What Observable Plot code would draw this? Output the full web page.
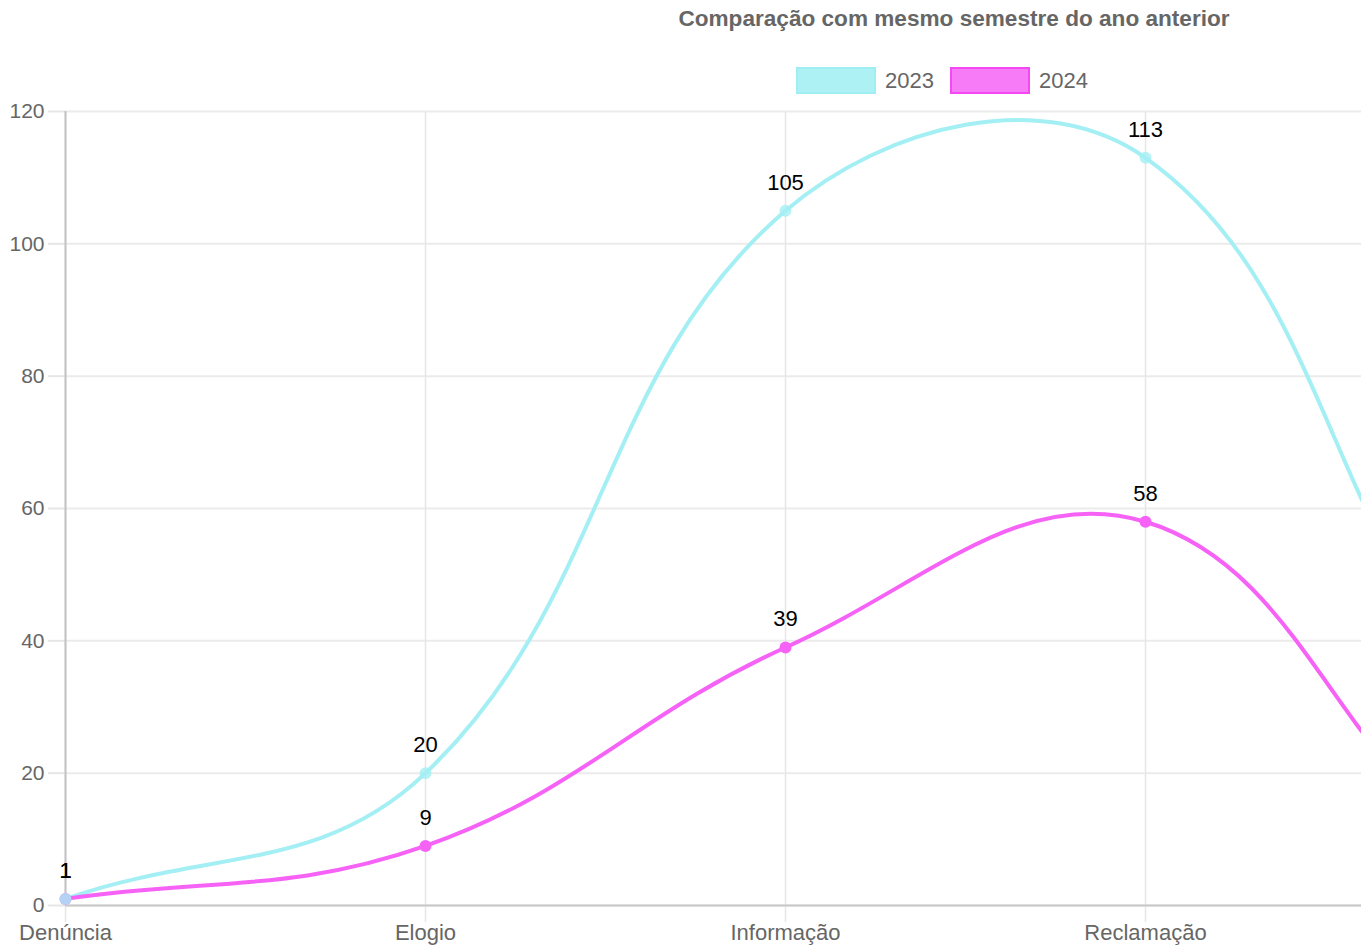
<!DOCTYPE html>
<html>
<head>
<meta charset="utf-8">
<script src="https://cdn.jsdelivr.net/npm/d3@7"></script>
<script src="https://cdn.jsdelivr.net/npm/@observablehq/plot@0.6"></script>
<style>
  body { margin: 0; background: #fff; font-family: "Liberation Sans", Arial, Helvetica, sans-serif; }
  #wrap { position: relative; width: 1372px; height: 949px; overflow: hidden; }
  #title { position: absolute; top: 6px; left: 954px; transform: translateX(-50%); white-space: nowrap;
           font-weight: bold; font-size: 22.6px; color: #666; }
  #legend { position: absolute; top: 67px; left: 796px; display: flex; align-items: center;
            font-size: 22px; color: #666; white-space: nowrap; }
  .sw { width: 76px; height: 23px; border: 2px solid; margin-right: 9px; }
  .item { display: flex; align-items: center; margin-right: 16px; }
  #chart { position: absolute; top: 100px; left: 0; }
</style>
</head>
<body>
<div id="wrap">
  <div id="title">Comparação com mesmo semestre do ano anterior</div>
  <div id="legend"></div>
  <div id="chart"></div>
</div>
<script>
// Manifestation types; the last two lie past the right edge of the frame
const categories = ["Denúncia", "Elogio", "Informação", "Reclamação", "Solicitação", "Sugestão"];
const values2023 = [1, 20, 105, 113, 28, 5];
const values2024 = [1, 9, 39, 58, 6, 0];
const seriesNames = ["2023", "2024"];
const yTicks = [0, 20, 40, 60, 80, 100, 120];
const shownCount = 4; // categories whose labels fall inside the frame

const lineColors = {"2023": "#a4eff4", "2024": "#f662f6"};
const boxFill = {"2023": "#adf1f4", "2024": "#f77af7"};
const boxStroke = {"2023": "#9eeef3", "2024": "#f548f5"};

const rows2023 = categories.map((c, i) => ({cat: c, value: values2023[i]}));
const rows2024 = categories.map((c, i) => ({cat: c, value: values2024[i]}));
const shownCats = categories.slice(0, shownCount);

// Legend
const legend = document.getElementById("legend");
for (const s of seriesNames) {
  const item = document.createElement("div");
  item.className = "item";
  item.innerHTML = `<div class="sw" style="background:${boxFill[s]};border-color:${boxStroke[s]}"></div><span>${s}</span>`;
  legend.appendChild(item);
}

// Bezier spline with distance-weighted control points (tension 0.4)
const TENSION = 0.4;
function weightedSpline(context) {
  let pts = [];
  return {
    areaStart() {}, areaEnd() {},
    lineStart() { pts = []; },
    point(x, y) { pts.push([+x, +y]); },
    lineEnd() {
      const n = pts.length;
      if (!n) return;
      const cps = pts.map((p, i) => {
        const prev = pts[Math.max(0, i - 1)], next = pts[Math.min(n - 1, i + 1)];
        const d01 = Math.hypot(p[0] - prev[0], p[1] - prev[1]);
        const d12 = Math.hypot(next[0] - p[0], next[1] - p[1]);
        let s01 = d01 / (d01 + d12), s12 = d12 / (d01 + d12);
        if (!isFinite(s01)) s01 = 0;
        if (!isFinite(s12)) s12 = 0;
        const fa = TENSION * s01, fb = TENSION * s12;
        const dx = next[0] - prev[0], dy = next[1] - prev[1];
        return {c1: [p[0] - fa * dx, p[1] - fa * dy], c2: [p[0] + fb * dx, p[1] + fb * dy]};
      });
      context.moveTo(pts[0][0], pts[0][1]);
      for (let i = 1; i < n; i++) {
        context.bezierCurveTo(cps[i - 1].c2[0], cps[i - 1].c2[1], cps[i].c1[0], cps[i].c1[1], pts[i][0], pts[i][1]);
      }
    }
  };
}

const font = '"Liberation Sans", Arial, Helvetica, sans-serif';
const shown = d => shownCats.includes(d.cat);

const chart = Plot.plot({
  width: 1361,
  height: 849,
  marginTop: 11,
  marginBottom: 44,
  marginLeft: 65,
  marginRight: 0,
  style: {fontFamily: font, fontSize: "21px", color: "#666", background: "transparent", overflow: "hidden"},
  x: {type: "point", domain: categories, range: [65, 1865], padding: 0},
  y: {domain: [0, 120], range: [805, 11]},
  marks: [
    Plot.gridY(yTicks, {stroke: "#ebebeb", strokeOpacity: 1, strokeWidth: 2}),
    Plot.gridX(categories, {stroke: "#e6e6e6", strokeOpacity: 1, strokeWidth: 1.5}),
    Plot.axisY(yTicks, {tickSize: 17, tickPadding: 4, stroke: "#e6e6e6", strokeWidth: 2, fill: "#666", label: null, fontSize: 21}),
    Plot.axisX(shownCats, {tickSize: 17, tickPadding: 2, stroke: "#e6e6e6", strokeWidth: 1.5, fill: "#666", label: null, fontSize: 22}),
    Plot.ruleX([categories[0]], {stroke: "#c2c2c2", strokeWidth: 2}),
    Plot.ruleY([0], {stroke: "#c8c8c8", strokeWidth: 2}),
    Plot.line(rows2023, {x: "cat", y: "value", stroke: lineColors["2023"], strokeWidth: 4, curve: weightedSpline}),
    Plot.line(rows2024, {x: "cat", y: "value", stroke: lineColors["2024"], strokeWidth: 4, curve: weightedSpline}),
    Plot.dot(rows2024, {x: "cat", y: "value", r: 6, fill: lineColors["2024"]}),
    Plot.dot(rows2023, {x: "cat", y: "value", r: 6, fill: lineColors["2023"], fillOpacity: 0.8}),
    Plot.text(rows2023, {filter: shown, x: "cat", y: "value", text: d => String(d.value), dy: -28, fill: "#000", fontSize: 22, lineAnchor: "middle"}),
    Plot.text(rows2024, {filter: shown, x: "cat", y: "value", text: d => String(d.value), dy: -28, fill: "#000", fontSize: 22, lineAnchor: "middle"})
  ]
});
document.getElementById("chart").appendChild(chart);
</script>
</body>
</html>
